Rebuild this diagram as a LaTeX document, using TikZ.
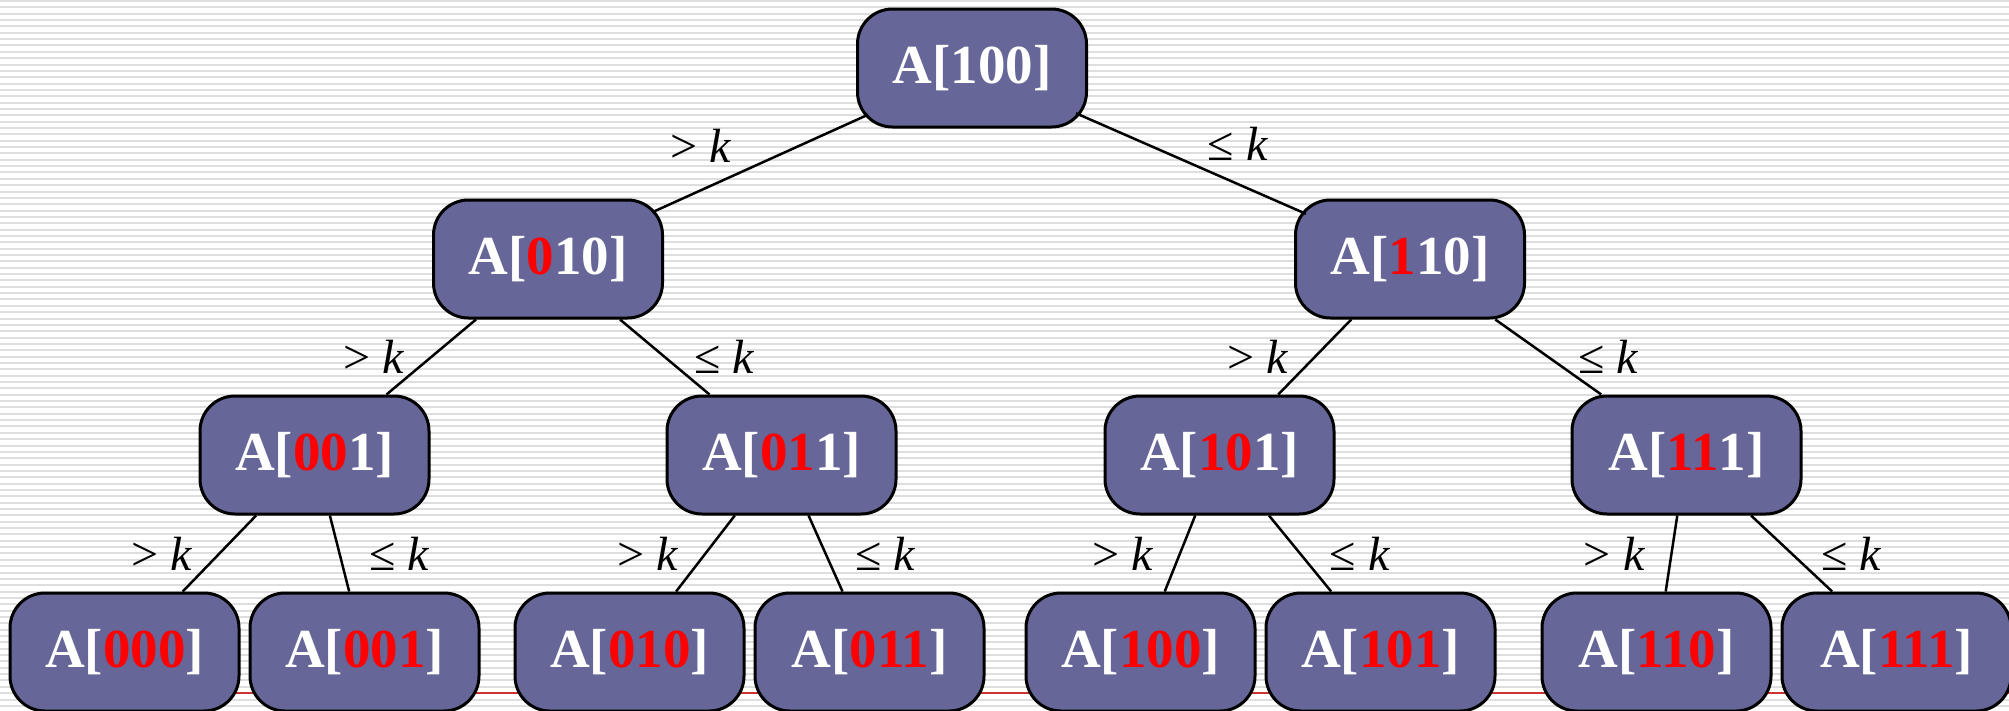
\documentclass[tikz,border=0pt]{standalone}
\usepackage{fontspec}
\setmainfont{Liberation Serif}
\definecolor{cellfill}{RGB}{102,102,153}
\definecolor{stripe}{RGB}{222,222,222}
\definecolor{footline}{RGB}{204,51,51}
\newcommand{\rd}[1]{\textcolor{red}{#1}}
\tikzset{
  cell/.style={draw=black, line width=3pt, fill=cellfill, rounded corners=35pt,
    minimum width=229pt, minimum height=118pt, inner sep=0pt, text=white,
    font=\bfseries\fontsize{55}{60}\selectfont},
  gt/.style={inner sep=0pt, font=\fontsize{48}{50}\selectfont, xshift=-57pt},
  le/.style={inner sep=0pt, font=\fontsize{48}{50}\selectfont, xshift=60pt},
  reach/.style={shorten <=-13pt, shorten >=-13pt},
}
\begin{document}
\begin{tikzpicture}[x=1pt,y=1pt,
  edge from parent/.style={draw, line width=2.5pt},
  level 1/.style={sibling distance=862pt, level distance=191pt},
  level 2/.style={sibling distance=467pt, level distance=196pt},
  level 3/.style={sibling distance=240pt, level distance=197pt}]
  \clip (0,0) rectangle (2009,-710);
  \fill[white] (0,0) rectangle (2009,-710);
  % striped background
  \foreach \i in {0,...,111}
    \draw[stripe, line width=2pt] (0,-1-6.35*\i) -- (2009,-1-6.35*\i);
  \draw[footline, line width=2pt] (60,-693) -- (2009,-693);
  \node[cell] (r) at (972,-68) {A[100]}
    child[xshift=7pt] {node[cell] (l) {A[\rd{0}10]}
      child {node[cell] (ll) {A[\rd{00}1]}
        child[xshift=-70pt] {node[cell] (lll) {A[\rd{000}]}
          edge from parent node[gt] {> \textit{k}}}
        child[xshift=-70pt] {node[cell] (llr) {A[\rd{001}]}
          edge from parent node[le] {≤ \textit{k}}}
        edge from parent node[gt] {> \textit{k}}
      }
      child {node[cell] (lr) {A[\rd{01}1]}
        child[xshift=-32pt] {node[cell] (lrl) {A[\rd{010}]}
          edge from parent node[gt] {> \textit{k}}}
        child[xshift=-32pt] {node[cell] (lrr) {A[\rd{011}]}
          edge from parent node[le] {≤ \textit{k}}}
        edge from parent node[le] {≤ \textit{k}}
      }
      edge from parent[reach] node[gt, xshift=-2pt, yshift=18pt] {> \textit{k}}
    }
    child[xshift=7pt] {node[cell] (rt) {A[\rd{1}10]}
      child[xshift=43pt] {node[cell] (rl) {A[\rd{10}1]}
        child[xshift=41pt] {node[cell] (rll) {A[\rd{100}]}
          edge from parent node[gt] {> \textit{k}}}
        child[xshift=41pt] {node[cell] (rlr) {A[\rd{101}]}
          edge from parent node[le] {≤ \textit{k}}}
        edge from parent node[gt] {> \textit{k}}
      }
      child[xshift=43pt] {node[cell] (rr) {A[\rd{11}1]}
        child[xshift=90pt] {node[cell] (rrl) {A[\rd{110}]}
          edge from parent node[gt] {> \textit{k}}}
        child[xshift=90pt] {node[cell] (rrr) {A[\rd{111}]}
          edge from parent node[le] {≤ \textit{k}}}
        edge from parent node[le] {≤ \textit{k}}
      }
      edge from parent[reach] node[le, xshift=-13pt, yshift=20pt] {≤ \textit{k}}
    };
\end{tikzpicture}
\end{document}
